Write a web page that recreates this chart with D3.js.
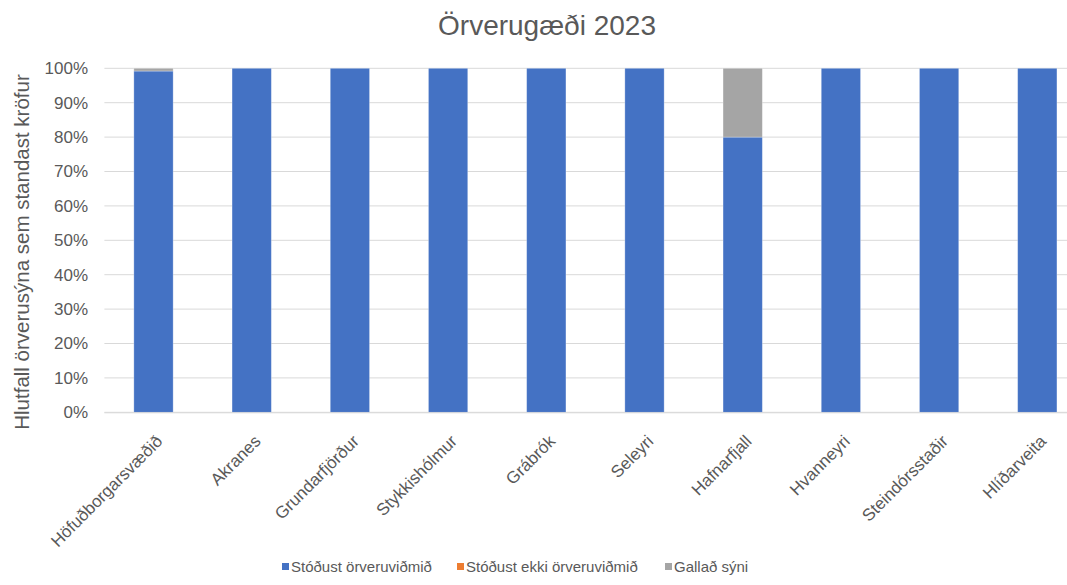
<!DOCTYPE html>
<html><head><meta charset="utf-8">
<script src="https://cdn.jsdelivr.net/npm/d3@7"></script>
<style>body{margin:0;background:#fff}svg{display:block;font-family:"Liberation Sans",Arial,sans-serif}</style>
</head><body>
<svg id="c" width="1067" height="585"></svg>
<script>
const categories = ["Höfuðborgarsvæðið","Akranes","Grundarfjörður","Stykkishólmur","Grábrók","Seleyri","Hafnarfjall","Hvanneyri","Steindórsstaðir","Hlíðarveita"];
const passed = [0.992,1,1,1,1,1,0.80,1,1,1];
const failed = [0,0,0,0,0,0,0,0,0,0];
const defective = [0.008,0,0,0,0,0,0.20,0,0,0];
const seriesNames = ["Stóðust örveruviðmið","Stóðust ekki örveruviðmið","Gallað sýni"];
const colors = ["#4472C4","#ED7D31","#A5A5A5"];
const yTicks = [0,0.1,0.2,0.3,0.4,0.5,0.6,0.7,0.8,0.9,1];

const svg = d3.select("#c");
const plotLeft = 104.4, step = 98.2, plotTop = 68.3, plotBottom = 412.3;
const x = d3.scaleBand().domain(categories).range([plotLeft, plotLeft + step*categories.length]).paddingInner(0.6).paddingOuter(0.3);
const y = d3.scaleLinear().domain([0,1]).range([plotBottom, plotTop]);

svg.append("text").attr("x",547).attr("y",35).attr("text-anchor","middle")
  .attr("font-size",28).attr("fill","#595959").text("Örverugæði 2023");

// gridlines
svg.append("g").selectAll("line").data(yTicks).join("line")
  .attr("x1",plotLeft).attr("x2",1067).attr("y1",d=>y(d)).attr("y2",d=>y(d))
  .attr("stroke","#D9D9D9").attr("stroke-width",1);

// y axis labels
const yAxis = d3.axisLeft(y).tickValues(yTicks).tickFormat(d3.format(".0%")).tickSize(0).tickPadding(0);
const ya = svg.append("g").attr("transform","translate(88,0)").call(yAxis);
ya.select(".domain").remove();
ya.selectAll("text").attr("font-size",17).attr("fill","#595959").attr("font-family","Liberation Sans, Arial, sans-serif");

// stacked bars
const rows = categories.map((c,i)=>({cat:c, v:[passed[i],failed[i],defective[i]]}));
const stackData = d3.stack().keys([0,1,2]).value((d,k)=>d.v[k])(rows);
svg.append("g").selectAll("g").data(stackData).join("g").attr("fill",(d,i)=>colors[i])
  .selectAll("rect").data(d=>d.filter(p=>p[1]-p[0]>0)).join("rect")
  .attr("x",d=>x(d.data.cat)).attr("width",x.bandwidth())
  .attr("y",d=>y(d[1])).attr("height",d=>y(d[0])-y(d[1]))
  .attr("stroke","#ffffff").attr("stroke-opacity",0.35).attr("stroke-width",0.8);

// x axis baseline
svg.append("line").attr("x1",plotLeft).attr("x2",1067).attr("y1",plotBottom+0.5).attr("y2",plotBottom+0.5).attr("stroke","#D9D9D9");

// x labels
const xAxis = d3.axisBottom(x).tickSize(0).tickPadding(0);
const xa = svg.append("g").attr("transform",`translate(0,${plotBottom})`).call(xAxis);
xa.select(".domain").remove();
xa.selectAll("text").attr("font-size",17).attr("fill","#595959")
  .attr("font-family","Liberation Sans, Arial, sans-serif")
  .attr("text-anchor","end").attr("dy",null)
  .attr("transform","translate(10,30) rotate(-45)");

// y title
svg.append("text").attr("transform","translate(29,252) rotate(-90)").attr("text-anchor","middle")
  .attr("font-size",20.5).attr("fill","#595959").text("Hlutfall örverusýna sem standast kröfur");

// legend
const legX = [282,457,665];
const lg = svg.append("g").selectAll("g").data(seriesNames).join("g")
  .attr("transform",(d,i)=>`translate(${legX[i]},567)`);
lg.append("rect").attr("x",0).attr("y",-4).attr("width",7).attr("height",7).attr("fill",(d,i)=>colors[i]);
lg.append("text").attr("x",9).attr("y",0).attr("dy","0.35em").attr("font-size",15).attr("fill","#595959").text(d=>d);
</script>
</body></html>
